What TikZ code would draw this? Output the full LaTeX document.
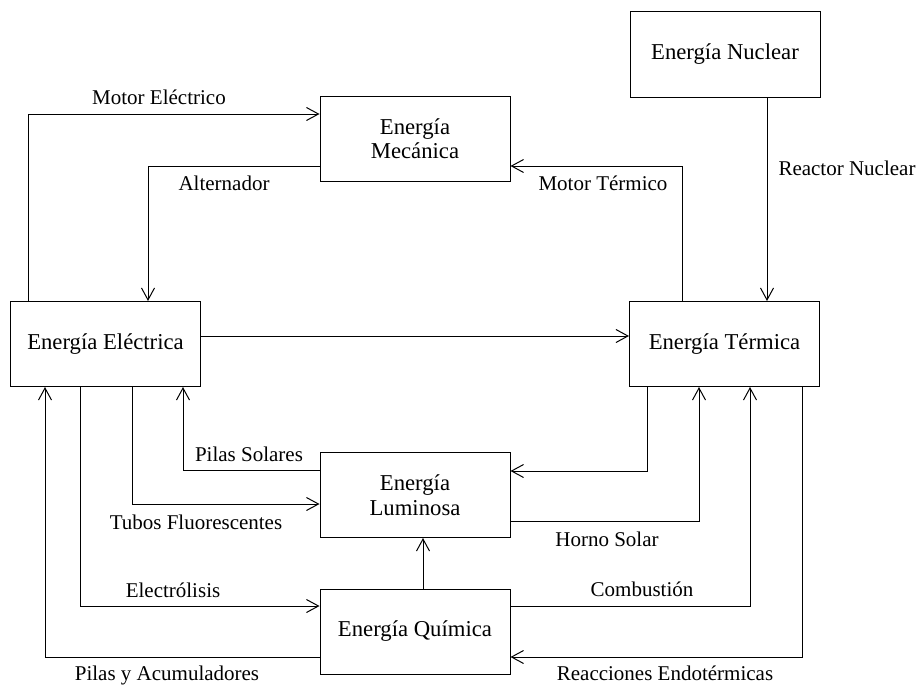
\documentclass[tikz,border=0pt]{standalone}
\usepackage{fontspec}
\setmainfont{Liberation Serif}
\usetikzlibrary{arrows.meta}
\begin{document}
\begin{tikzpicture}[x=1pt,y=-1pt,
  box/.style={draw, line width=1pt, inner sep=0pt, minimum width=190pt, minimum height=85pt,
    align=center, font=\fontsize{22.7}{24.5}\selectfont},
  flow/.style={line width=1pt, -{Straight Barb[length=12pt,width=13pt,line width=1pt]}},
  lbl/.style={anchor=base, inner sep=0pt, font=\fontsize{21}{24}\selectfont}]
\useasboundingbox (0,0) rectangle (920,685);

% energy forms
\node[box] (nuc) at (725,54.5)   {Energía Nuclear};
\node[box] (mec) at (415,138.5)  {Energía\\Mecánica};
\node[box] (ele) at (105.5,344)  {Energía Eléctrica};
\node[box] (ter) at (724.5,344)  {Energía Térmica};
\node[box] (lum) at (415,495)    {Energía\\Luminosa};
\node[box] (qui) at (415,631.5)  {Energía Química};

% routing points of the connectors
\coordinate (me) at (28,114);
\coordinate (al) at (148,166);
\coordinate (mt) at (682,166);
\coordinate (rn) at (767,200);
\coordinate (et) at (0,336);
\coordinate (ps) at (183,470);
\coordinate (tf) at (132,504);
\coordinate (el) at (80,606);
\coordinate (pa) at (45,657);
\coordinate (ql) at (423,560);
\coordinate (tl) at (647,471);
\coordinate (hs) at (699,521);
\coordinate (co) at (750,606);
\coordinate (re) at (802,657);

% conversions
\draw[flow] (me |- ele.north) -- (me) -- (me -| mec.west);
\draw[flow] (al -| mec.west) -- (al) -- (al |- ele.north);
\draw[flow] (mt |- ter.north) -- (mt) -- (mt -| mec.east);
\draw[flow] (rn |- nuc.south) -- (rn |- ter.north);
\draw[flow] (et -| ele.east) -- (et -| ter.west);
\draw[flow] (ps -| lum.west) -- (ps) -- (ps |- ele.south);
\draw[flow] (tf |- ele.south) -- (tf) -- (tf -| lum.west);
\draw[flow] (el |- ele.south) -- (el) -- (el -| qui.west);
\draw[flow] (pa -| qui.west) -- (pa) -- (pa |- ele.south);
\draw[flow] (ql |- qui.north) -- (ql |- lum.south);
\draw[flow] (tl |- ter.south) -- (tl) -- (tl -| lum.east);
\draw[flow] (hs -| lum.east) -- (hs) -- (hs |- ter.south);
\draw[flow] (co -| qui.east) -- (co) -- (co |- ter.south);
\draw[flow] (re |- ter.south) -- (re) -- (re -| qui.east);

% labels
\node[lbl] (l1)  at (159,104) {Motor Eléctrico};
\node[lbl] (l2)  at (224,190) {Alternador};
\node[lbl] (l3)  at (603,190) {Motor Térmico};
\node[lbl] (l4)  at (847,175) {Reactor Nuclear};
\node[lbl] (l5)  at (249,461) {Pilas Solares};
\node[lbl] (l6)  at (196,529) {Tubos Fluorescentes};
\node[lbl] (l7)  at (607,546) {Horno Solar};
\node[lbl] (l8)  at (173,597) {Electrólisis};
\node[lbl] (l9)  at (642,596) {Combustión};
\node[lbl] (l10) at (167,680) {Pilas y Acumuladores};
\node[lbl] (l11) at (665,680) {Reacciones Endotérmicas};
\end{tikzpicture}
\end{document}
